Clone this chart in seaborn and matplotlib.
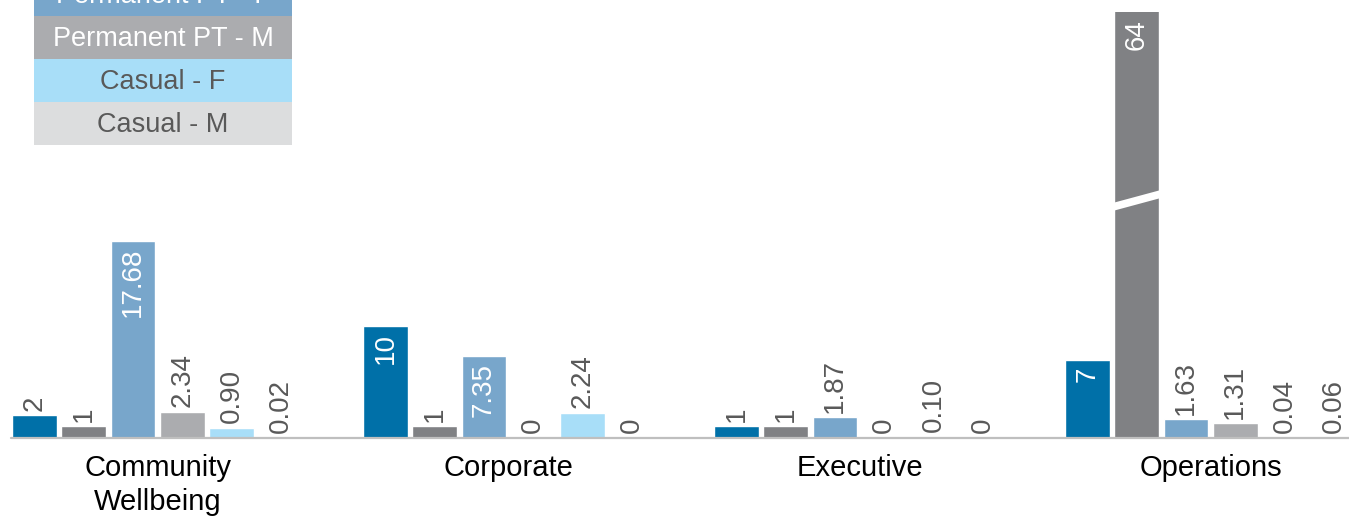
import matplotlib
matplotlib.use("Agg")
import matplotlib.pyplot as plt
from matplotlib.patches import Rectangle, Polygon
import seaborn as sns
import pandas as pd

# Headcount / FTE by directorate and employment type
categories = ["Community\nWellbeing", "Corporate", "Executive", "Operations"]
series = ["Permanent FT - F", "Permanent FT - M", "Permanent PT - F",
          "Permanent PT - M", "Casual - F", "Casual - M"]
values = {
    "Permanent FT - F": [2, 10, 1, 7],
    "Permanent FT - M": [1, 1, 1, 64],
    "Permanent PT - F": [17.68, 7.35, 1.87, 1.63],
    "Permanent PT - M": [2.34, 0, 0, 1.31],
    "Casual - F": [0.90, 2.24, 0.10, 0.04],
    "Casual - M": [0.02, 0, 0, 0.06],
}
count_series = ["Permanent FT - F", "Permanent FT - M"]
colors = ["#0070A8", "#808184", "#78A6CB", "#ABACAF", "#A8DEF8", "#DCDDDE"]
legend_text_colors = ["white", "white", "white", "white", "#595959", "#595959"]

rows = []
for s in series:
    for c, v in zip(categories, values[s]):
        rows.append({"category": c, "series": s, "value": v})
df = pd.DataFrame(rows)

W, H = 1349, 517
fig = plt.figure(figsize=(W / 100, H / 100), dpi=100)
sns.set_style("white")
plt.rcParams["font.family"] = ["Liberation Sans", "DejaVu Sans"]

base_px = 437.5
top_px = 12
ax = fig.add_axes([0, (H - base_px) / H, 1, (base_px - top_px) / H])

sns.barplot(data=df, x="category", y="value", hue="series", order=categories,
            hue_order=series, palette=colors, width=0.843, gap=0.09,
            edgecolor="white", linewidth=1, saturation=1, legend=False, ax=ax)

ymax = 38.3
center_px = 157.7
pitch_px = 351.0
ax.set_xlim(-center_px / pitch_px, (W - center_px) / pitch_px)
ax.set_ylim(0, ymax)
for sp in ax.spines.values():
    sp.set_visible(False)
ax.set_yticks([])
ax.set_xlabel("")
ax.set_ylabel("")
ax.tick_params(axis="x", length=0, pad=12, labelsize=21, labelcolor="black")
for lbl in ax.get_xticklabels():
    lbl.set_linespacing(1.25)
ax.axhline(0, xmin=(11 / W), xmax=1, color="#BFBFBF", lw=1.6, zorder=3, clip_on=False)

# Value labels, rotated; large bars carry white labels inside
for s, cont in zip(series, ax.containers):
    for bar, v in zip(cont.patches, values[s]):
        if v == 0:
            txt = "0"
        elif s in count_series:
            txt = f"{int(v)}"
        else:
            txt = f"{v:.2f}"
        xc = bar.get_x() + bar.get_width() / 2
        if v >= 5:
            ytop = min(v, ymax)
            ax.annotate(txt, (xc, ytop), xytext=(0, -5), textcoords="offset points",
                        rotation=90, ha="center", va="top", color="white",
                        fontsize=20, annotation_clip=False)
        else:
            ax.annotate(txt, (xc, v), xytext=(0, 3), textcoords="offset points",
                        rotation=90, ha="center", va="bottom", color="#595959",
                        fontsize=20)

# Break mark on the truncated Operations bar
big = ax.containers[series.index("Permanent FT - M")].patches[categories.index("Operations")]
bx0 = big.get_x() - 0.01
bx1 = big.get_x() + big.get_width() + 0.01
def px_to_y(py):
    return (base_px - py) / (base_px - top_px) * ymax
ax.add_patch(Polygon([(bx0, px_to_y(211.5)), (bx1, px_to_y(197.5)),
                      (bx1, px_to_y(189.5)), (bx0, px_to_y(203.5))],
                     closed=True, facecolor="white", edgecolor="none", zorder=5))

# Legend as stacked coloured rows, anchored to the upper-left of the figure
lx0, lx1 = 34, 292
row_h = 43
first_top = -113.3
for i, (s, col, tcol) in enumerate(zip(series, colors, legend_text_colors)):
    ytop = first_top + i * row_h
    fig.add_artist(Rectangle((lx0 / W, 1 - (ytop + row_h) / H), (lx1 - lx0) / W, row_h / H,
                             transform=fig.transFigure, facecolor=col, edgecolor="none"))
    fig.text((lx0 + lx1) / 2 / W, 1 - (ytop + row_h / 2 + 2) / H, s, ha="center", va="center",
             color=tcol, fontsize=19.5)

fig.savefig("out.png", dpi=100)
